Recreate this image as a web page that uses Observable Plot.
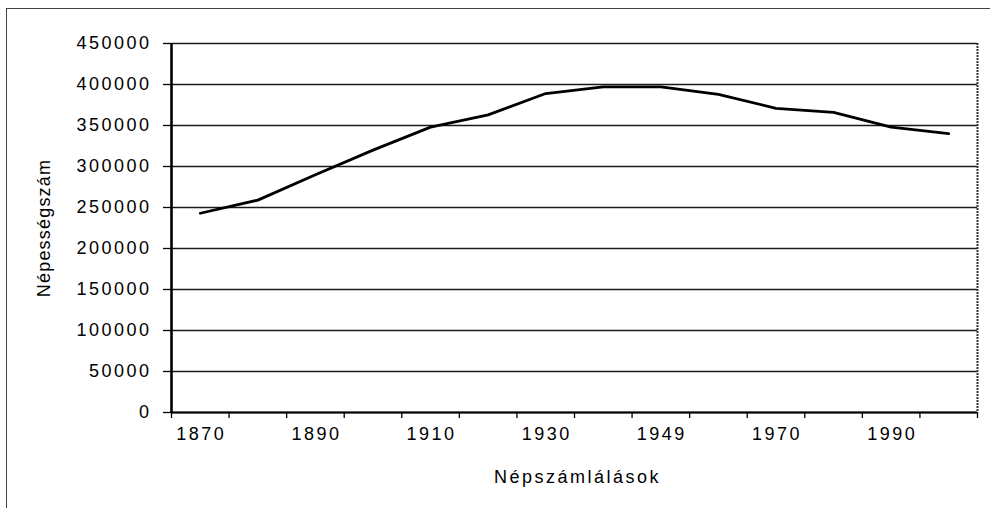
<!DOCTYPE html>
<html>
<head>
<meta charset="utf-8">
<script src="https://cdn.jsdelivr.net/npm/d3@7"></script>
<script src="https://cdn.jsdelivr.net/npm/@observablehq/plot@0.6"></script>
<style>
html, body { margin: 0; padding: 0; background: #fff; }
#wrap { position: relative; width: 990px; height: 508px; overflow: hidden; background: #fff; }
#wrap svg { display: block; }
#wrap::before { content: ""; position: absolute; left: 6px; top: 8px; width: 1100px; height: 700px;
  border-left: 1.5px solid #444; border-top: 1.5px solid #444; pointer-events: none; }
</style>
</head>
<body>
<div id="wrap"></div>
<script>
// Census years (categories) and population values
const years = ["1870", "1880", "1890", "1900", "1910", "1920", "1930", "1941", "1949", "1960", "1970", "1980", "1990", "2001"];
const population = [243000, 259000, 290000, 320000, 348000, 363000, 389000, 397000, 397000, 388000, 371000, 366000, 348000, 340000];
const yTicks = [0, 50000, 100000, 150000, 200000, 250000, 300000, 350000, 400000, 450000];
const xLabelYears = ["1870", "1890", "1910", "1930", "1949", "1970", "1990"];
const xTitle = "Népszámlálások";
const yTitle = "Népességszám";

const data = years.map((year, i) => ({i, year, population: population[i]}));
const betweenTicks = d3.range(years.length + 1).map(k => k - 0.5);
const labelIdx = xLabelYears.map(y => years.indexOf(y));

const plot = Plot.plot({
  width: 990,
  height: 508,
  marginLeft: 171,
  marginRight: 13,
  marginTop: 43,
  marginBottom: 96,
  style: {fontFamily: "'Liberation Sans', Arial, sans-serif", fontSize: "18px", background: "white", color: "black", letterSpacing: "2.5px"},
  x: {domain: [-0.5, years.length - 0.5], axis: null},
  y: {domain: [0, 450000], axis: null},
  marks: [
    Plot.ruleY(yTicks, {stroke: "#1a1a1a", strokeWidth: 1.4}),
    Plot.ruleX([years.length - 0.5], {stroke: "#333", strokeWidth: 2, strokeDasharray: "2,1"}),
    Plot.ruleX([-0.5], {stroke: "#000", strokeWidth: 2.6}),
    Plot.ruleY([0], {stroke: "#000", strokeWidth: 2.2}),
    Plot.axisY({ticks: yTicks, tickSize: 8, tickPadding: 12, tickFormat: d => String(d), label: null, stroke: "#000", strokeWidth: 1.3, fontSize: 18}),
    Plot.axisX({ticks: betweenTicks, tickSize: 6, tickFormat: () => "", label: null, stroke: "#000", strokeWidth: 1.3}),
    Plot.axisX({ticks: labelIdx, tickSize: 0, tickPadding: 15, tickFormat: i => years[i], label: null, dx: 1, fontSize: 18}),
    Plot.line(data, {x: "i", y: "population", stroke: "#000", strokeWidth: 2.8, strokeLinejoin: "round"}),
    Plot.text([xTitle], {frameAnchor: "bottom", lineAnchor: "middle", textAnchor: "middle", dy: 65, dx: 3, fill: "#000", fontSize: 18}),
    Plot.text([yTitle], {frameAnchor: "left", lineAnchor: "middle", textAnchor: "middle", rotate: -90, dx: -127.5, fill: "#000", fontSize: 18})
  ]
});

d3.select(plot).selectAll("text")
  .filter(function() { return this.textContent === yTitle; })
  .style("letter-spacing", "1.2px");

document.getElementById("wrap").appendChild(plot);
</script>
</body>
</html>
